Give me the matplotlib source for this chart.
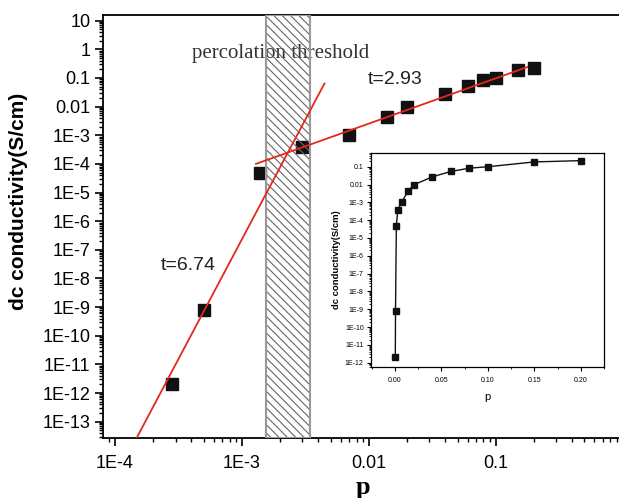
import numpy as np
import matplotlib
matplotlib.use("Agg")
import matplotlib.pyplot as plt
from matplotlib.ticker import FixedLocator, LogLocator, FuncFormatter, MultipleLocator, NullFormatter

# -------- DATA --------
p = [2.8e-4, 5.0e-4, 1.4e-3, 3.0e-3, 7.0e-3, 0.014, 0.02, 0.04, 0.06, 0.08, 0.10, 0.15, 0.20]
sigma = [2.0e-12, 8.0e-10, 5.0e-5, 3.9e-4, 1.0e-3, 4.3e-3, 9.5e-3, 0.027, 0.054, 0.083, 0.10, 0.186, 0.22]

# fitted power-law lines (end points)
fit_low_p = [1.4e-4, 4.47e-3]
fit_low_sigma = [1.7e-14, 0.064]
fit_high_p = [1.29e-3, 0.177]
fit_high_sigma = [1.0e-4, 0.24]

threshold_range = [1.545e-3, 3.42e-3]

x_decades = list(range(-4, 0))
y_decades = list(range(-13, 2))
inset_decades = list(range(-12, 0))


def log_label(v, pos):
    e = int(round(np.log10(v)))
    if e >= 0:
        return str(10 ** e)
    if e >= -2:
        return f"{10.0 ** e:g}"
    return f"1E{e}"


fig = plt.figure(figsize=(6.19, 4.98), dpi=100)
plt.rcParams['font.family'] = ['Liberation Sans', 'DejaVu Sans']
plt.rcParams['hatch.linewidth'] = 0.8

# -------- MAIN AXES --------
ax = fig.add_axes([0.1664, 0.1205, 0.8395, 0.8494])
ax.set_xscale('log')
ax.set_yscale('log')
ax.set_xlim(8.04e-5, 1.0)
ax.set_ylim(2.7e-14, 15.8)

ax.plot(p, sigma, 's', color='#111111', markersize=8, zorder=3)

ax.axvspan(threshold_range[0], threshold_range[1], facecolor='none',
           edgecolor='#666666', hatch='\\\\\\\\', linewidth=0, zorder=4)
ax.axvspan(threshold_range[0], threshold_range[1], facecolor='none',
           edgecolor='#999999', linewidth=1.5, zorder=4)

ax.plot(fit_low_p, fit_low_sigma, color='#e3281c', linewidth=1.3, zorder=5)
ax.plot(fit_high_p, fit_high_sigma, color='#e3281c', linewidth=1.3, zorder=5)

ax.text(4.05e-4, 0.74, 'percolation threshold', family=['Liberation Serif', 'DejaVu Serif'],
        fontsize=15, color='#333333', ha='left', va='center')
ax.text(9.87e-3, 0.09, 't=2.93', fontsize=14, color='#222222', ha='left', va='center')
ax.text(2.31e-4, 2.77e-8, 't=6.74', fontsize=14, color='#222222', ha='left', va='center')

ax.yaxis.set_major_locator(FixedLocator([10.0 ** k for k in y_decades]))
ax.yaxis.set_minor_locator(LogLocator(base=10, subs=np.arange(2, 10), numticks=100))
ax.xaxis.set_major_locator(FixedLocator([10.0 ** k for k in x_decades]))
ax.xaxis.set_minor_locator(LogLocator(base=10, subs=np.arange(2, 10), numticks=100))
ax.xaxis.set_major_formatter(FuncFormatter(log_label))
ax.yaxis.set_major_formatter(FuncFormatter(log_label))
ax.xaxis.set_minor_formatter(NullFormatter())
ax.yaxis.set_minor_formatter(NullFormatter())

ax.tick_params(which='major', direction='out', length=6, width=1.2, labelsize=13, pad=3)
ax.tick_params(which='minor', direction='out', length=3.2, width=1.0)
ax.tick_params(axis='x', which='major', pad=6)
for s in ax.spines.values():
    s.set_linewidth(1.3)

ax.set_ylabel('dc conductivity(S/cm)', fontsize=15, fontweight='bold')
ax.yaxis.set_label_coords(-0.145, 0.56)
ax.set_xlabel('p', family=['Liberation Serif', 'DejaVu Serif'], fontsize=19,
              fontweight='bold', labelpad=3)

# -------- INSET --------
ins = fig.add_axes([0.5989, 0.2624, 0.3769, 0.4309])
ins.set_yscale('log')
ins.set_xlim(-0.0262, 0.225)
ins.set_ylim(5.5e-13, 0.61)
ins.plot(p, sigma, 's-', color='#111111', markersize=4.5, linewidth=1.0)

ins.yaxis.set_major_locator(FixedLocator([10.0 ** k for k in inset_decades]))
ins.yaxis.set_minor_locator(LogLocator(base=10, subs=np.arange(2, 10), numticks=100))
ins.yaxis.set_major_formatter(FuncFormatter(log_label))
ins.yaxis.set_minor_formatter(NullFormatter())
ins.xaxis.set_major_locator(MultipleLocator(0.05))
ins.xaxis.set_minor_locator(MultipleLocator(0.025))
ins.xaxis.set_major_formatter(FuncFormatter(lambda v, pos: f"{v:.2f}"))
ins.tick_params(which='major', direction='out', length=3, width=0.8, labelsize=5, pad=2)
ins.tick_params(which='minor', direction='out', length=1.5, width=0.6)
ins.tick_params(axis='x', which='major', pad=4)
for s in ins.spines.values():
    s.set_linewidth(0.9)
ins.set_ylabel('dc conductivity(S/cm)', fontsize=6.8, fontweight='bold', labelpad=3)
ins.set_xlabel('p', fontsize=8, labelpad=6)

fig.savefig('out.png', dpi=100)
